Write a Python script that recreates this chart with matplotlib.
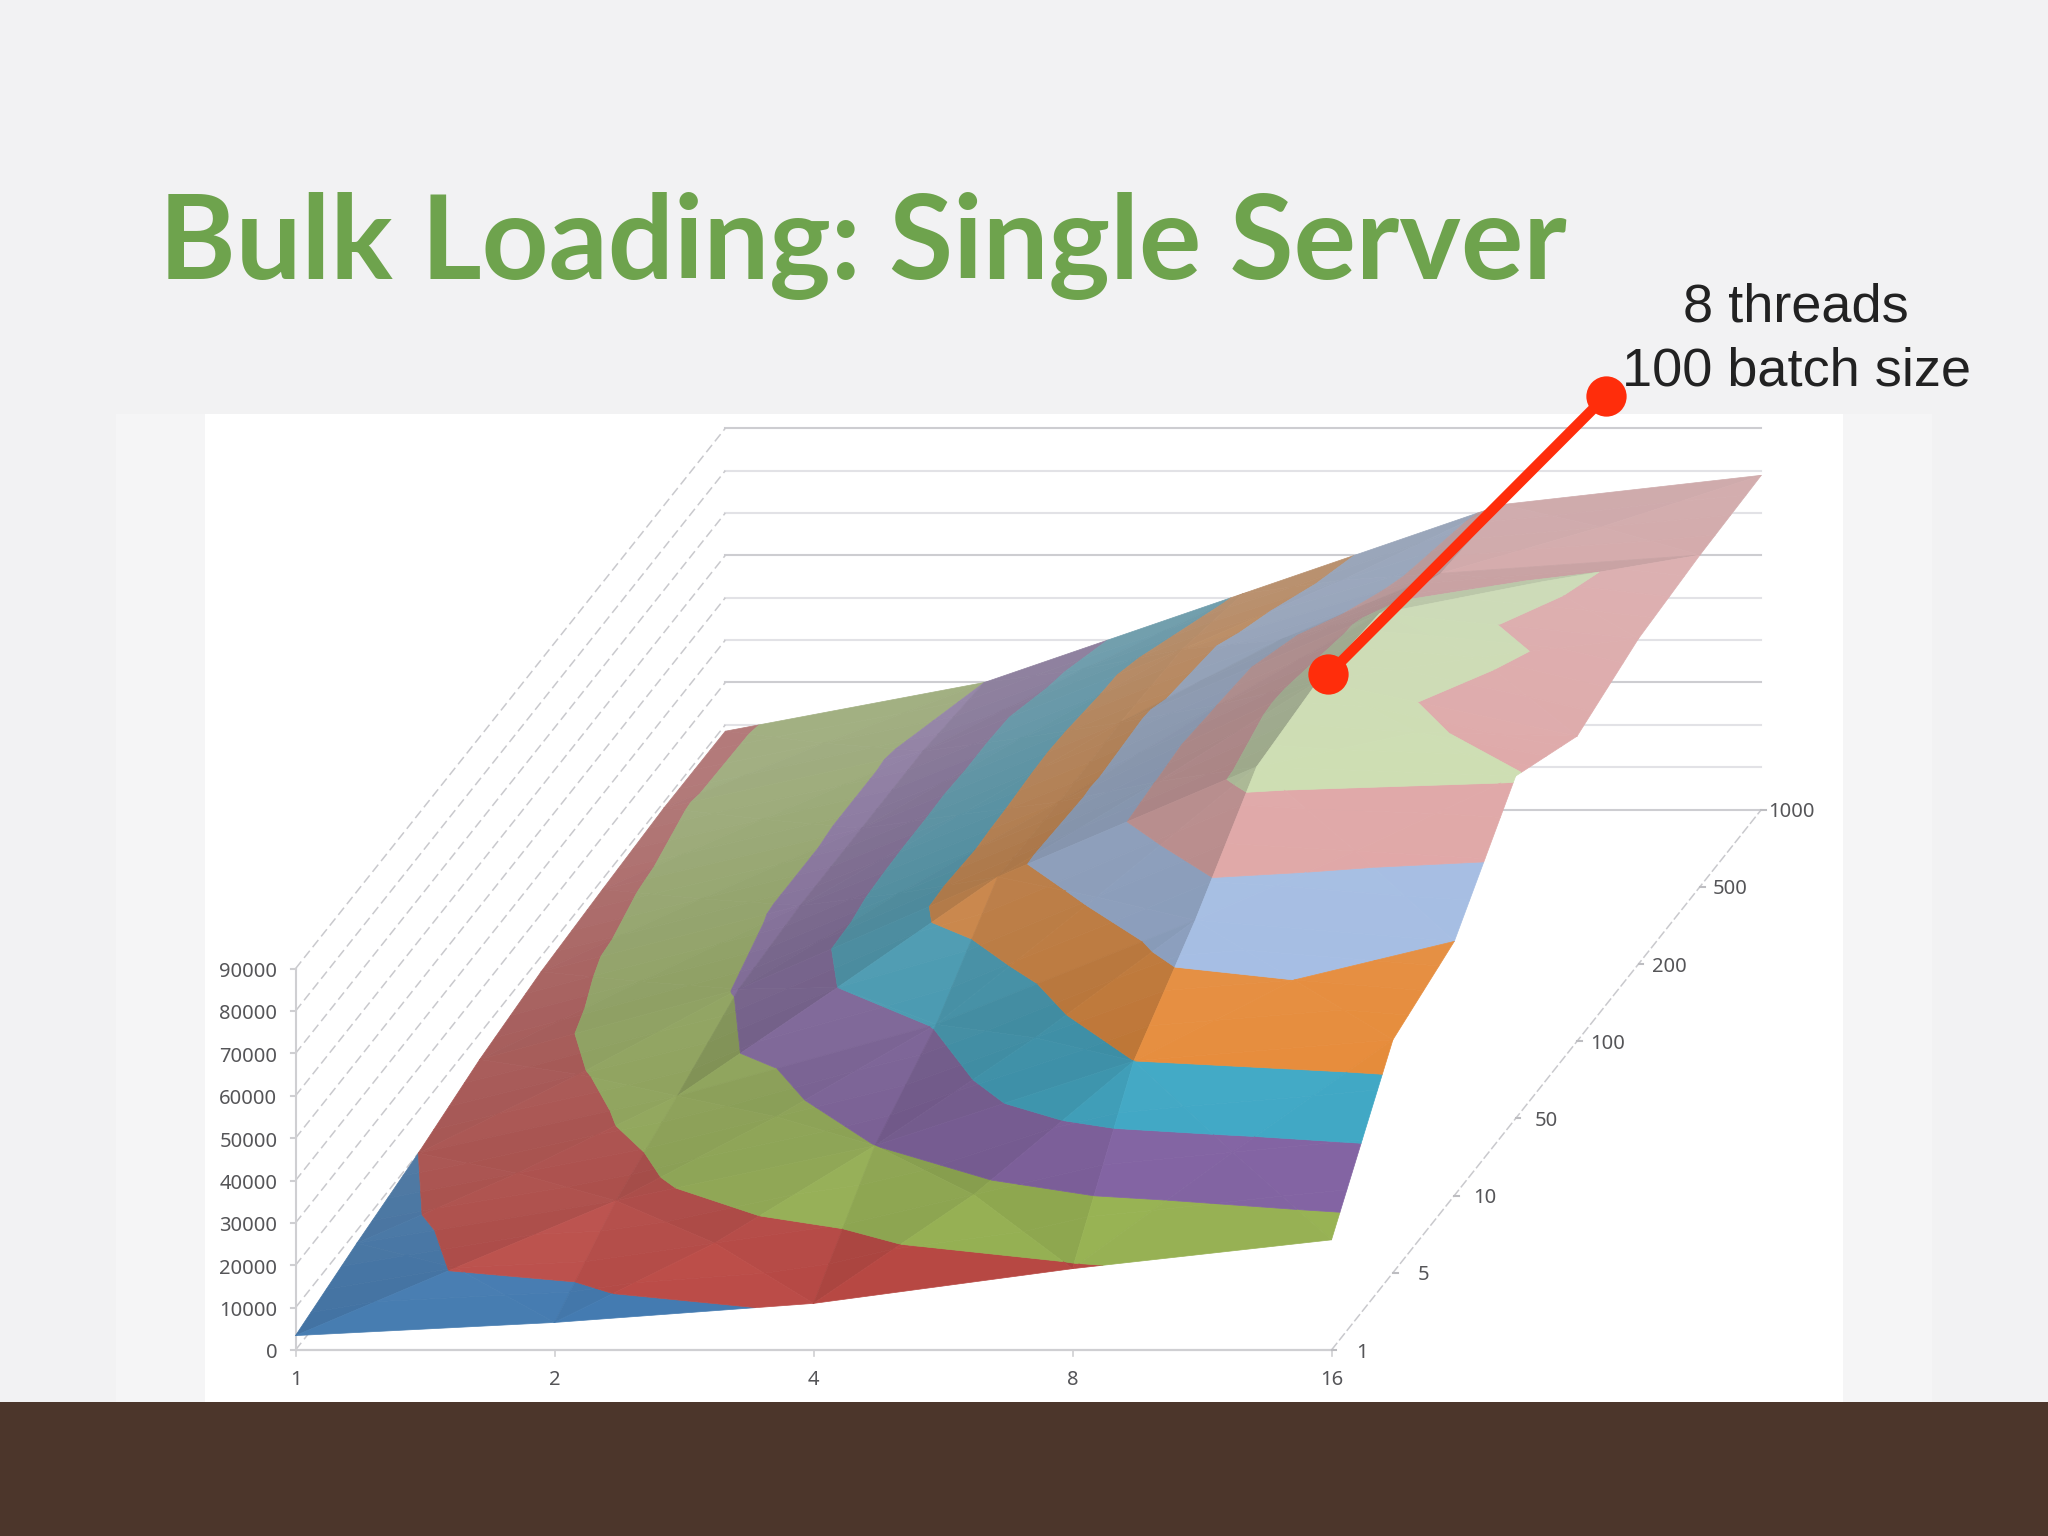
import numpy as np
import matplotlib
matplotlib.use("Agg")
import matplotlib.pyplot as plt
from matplotlib.collections import PolyCollection
from matplotlib.patches import Rectangle

# ---- data ----
threads = ["1", "2", "4", "8", "16"]
batch_sizes = ["1", "5", "10", "50", "100", "200", "500", "1000"]
z_ticks = [0, 10000, 20000, 30000, 40000, 50000, 60000, 70000, 80000, 90000]

# one row per batch size, one column per thread count
row_1 = [3400, 6500, 11000, 19200, 26000]
row_5 = [7000, 17000, 30000, 50000, 55000]
row_10 = [10000, 23500, 40400, 65000, 60000]
row_50 = [13900, 30500, 57000, 83000, 80800]
row_100 = [16400, 32000, 56500, 85000, 72000]
row_200 = [17600, 32000, 57000, 82700, 76800]
row_500 = [18600, 32000, 56000, 74000, 78300]
row_1000 = [18500, 30000, 51000, 72000, 78900]

# centre of a cell where the picture does not show the mean of its corners
# (column, row): value
cell_centres = {(0, 0): 10300, (1, 2): 40000, (3, 1): 60000, (3, 3): 82000,
                (3, 4): 81500, (3, 5): 81000}

band_colors = ["#4179b0", "#bb4a45", "#99b455", "#8465a4", "#41a9c6",
               "#e78c3a", "#a3bde5", "#e3a4a3", "#cee1ae"]
band_step = 10000

# ---- oblique projection of the Excel chart ----
W, H = 2048, 1536
X0, CAT_PX = 295.5, 259.0
BASE_PX, Z_PX = 1350.0, 0.004237
DEPTH_X = 61.4 / CAT_PX
DEPTH_Z = 77.2 / Z_PX


def project(x, j, z):
    x, j, z = np.broadcast_arrays(x, j, z)
    return x + j * DEPTH_X, z + j * DEPTH_Z


def clip(poly, lo, hi, axis=2):
    # cut a polygon of (x, j, z) points to lo <= coordinate <= hi
    for limit, sign in ((lo, 1), (hi, -1)):
        out = []
        for a, b in zip(poly, poly[1:] + poly[:1]):
            da, db = sign * (a[axis] - limit), sign * (b[axis] - limit)
            if da >= 0:
                out.append(a)
            if da * db < 0:
                t = da / (da - db)
                out.append(tuple(a[k] + t * (b[k] - a[k]) for k in range(3)))
        poly = out
        if not poly:
            break
    return poly


def shaded(color, tri, x, depth):
    p0, p1, p2 = [np.array(p, dtype=float) for p in tri]
    p0[2] /= 25000; p1[2] /= 25000; p2[2] /= 25000
    n = np.cross(p1 - p0, p2 - p0)
    n = n / np.linalg.norm(n)
    if n[2] < 0:
        n = -n
    light = np.array([0.60, -0.40, 0.69])
    f = 0.70 + 0.45 * max(n @ light, 0)
    rgb = np.array(matplotlib.colors.to_rgb(color)) * min(f, 1.0)
    fade = 0.42 * np.clip((depth + 1.6 * (1 - x / 4) - 0.8) / 7.0, 0, 1)
    return tuple(rgb * (1 - fade) + np.array([0.80, 0.80, 0.82]) * fade)


fig = plt.figure(figsize=(W / 100, H / 100), dpi=100, facecolor="#f2f2f3")
ax = fig.add_axes([0, 0, 1, 1])
ax.set_xlim(-X0 / CAT_PX, (W - X0) / CAT_PX)
ax.set_ylim((BASE_PX - H) / Z_PX, BASE_PX / Z_PX)
ax.axis("off")

# slide background pieces
ax.add_patch(Rectangle((116 / W, 0), 1816 / W, 1 - 414 / H, transform=ax.transAxes,
                       fc="#f5f5f6", ec="none", zorder=0))
ax.add_patch(Rectangle((205 / W, 0), 1638 / W, 1 - 414 / H, transform=ax.transAxes,
                       fc="white", ec="none", zorder=0.1))
ax.add_patch(Rectangle((0, 0), 1, 1 - 1402 / H, transform=ax.transAxes,
                       fc="#4c362b", ec="none", zorder=5))

n_x, n_j = len(threads), len(batch_sizes)

# back wall and side wall
for z in z_ticks:
    xs, ys = project(np.array([0, n_x - 1]), n_j - 1, z)
    grid_color = "#cdcdd1" if z % 30000 == 0 else "#e2e2e6"
    ax.plot(xs, ys, color=grid_color, lw=1.5, zorder=1)
    xs, ys = project(np.array([0, 0]), np.array([0, n_j - 1]), z)
    ax.plot(xs, ys, color="#c9c9cd", lw=1.1, ls=(0, (6, 3)), zorder=1)

# front axes
ax.plot([0, 0], [0, z_ticks[-1]], color="#cfcfd2", lw=1.5, zorder=1)
ax.plot([0, n_x - 1], [0, 0], color="#cfcfd2", lw=1.6, zorder=1)
xs, ys = project(np.array([n_x - 1, n_x - 1]), np.array([0, n_j - 1]), 0)
ax.plot(xs, ys, color="#c9c9cd", lw=1.1, ls=(0, (6, 2)), zorder=1)

tick_color = "#555558"
tick_font = dict(fontsize=14.5, family="Noto Sans", color=tick_color)
for i, lab in enumerate(threads):
    ax.plot([i, i], [0, -1300], color="#cfcfd2", lw=1.2, zorder=1)
    ax.text(i, -7000, lab, ha="center", va="center", **tick_font)
for z in z_ticks:
    ax.plot([-0.018, 0], [z, z], color="#cfcfd2", lw=1.5, zorder=1)
    ax.text(-0.07, z - 800, str(z), ha="right", va="center", **tick_font)
for j, lab in enumerate(batch_sizes):
    px, py = project(n_x - 1, j, 0)
    ax.plot([px, px + 0.018], [py, py], color="#bdbdc1", lw=1.5, zorder=1)
    ax.text(px + 0.118, py - 600, lab, ha="center", va="center", **tick_font)

# surface: every cell is cut in four triangles round its centre, as Excel does
z_grid = np.array([row_1, row_5, row_10, row_50, row_100, row_200, row_500, row_1000], dtype=float)
polys, faces = [], []
for j in range(n_j - 2, -1, -1):
    for i in range(n_x - 1):
        corners = [(i, j, z_grid[j, i]), (i + 1, j, z_grid[j, i + 1]),
                   (i + 1, j + 1, z_grid[j + 1, i + 1]), (i, j + 1, z_grid[j + 1, i])]
        centre = cell_centres.get((i, j), np.mean([c[2] for c in corners]))
        mid = (i + 0.5, j + 0.5, centre)
        for k in [2, 1, 3, 0]:  # back triangle first
            tri = [corners[k], corners[(k + 1) % 4], mid]
            for b, color in enumerate(band_colors):
                part = clip(tri, b * band_step, (b + 1) * band_step)
                if len(part) < 3:
                    continue
                # thin strips along the depth so the fade to the back stays smooth
                for s in np.arange(3, -1, -1):
                    strip = clip(part, j + s / 4, j + (s + 1) / 4, axis=1)
                    if len(strip) < 3:
                        continue
                    arr = np.array(strip)
                    px, py = project(arr[:, 0], arr[:, 1], arr[:, 2])
                    polys.append(np.column_stack([px, py]))
                    faces.append(shaded(color, tri, arr[:, 0].mean(), arr[:, 1].mean()))

ax.add_collection(PolyCollection(polys, facecolors=faces, edgecolors=faces,
                                 linewidths=0.5, zorder=2))

# callout
dot_x, dot_y = project(3.04, 4, 86600)
tip_x, tip_y = (1606 - X0) / CAT_PX, (BASE_PX - 396) / Z_PX
ax.plot([dot_x, tip_x], [dot_y, tip_y], color="#ff2d0b", lw=7.5, zorder=6,
        marker="o", ms=29, mec="none", solid_capstyle="round")

ax.text(159 / W, 1 - 279 / H, "Bulk Loading: Single Server", transform=ax.transAxes,
        fontsize=84, fontweight="bold", family="Lato", color="#6ea34d", va="baseline", zorder=7)
ax.text(1796 / W, 1 - 307 / H, "8 threads", transform=ax.transAxes, fontsize=39,
        family="Liberation Sans", color="#222222", ha="center", va="center", zorder=7)
ax.text(1797 / W, 1 - 371 / H, "100 batch size", transform=ax.transAxes, fontsize=39,
        family="Liberation Sans", color="#222222", ha="center", va="center", zorder=7)

fig.savefig("out.png", dpi=100, facecolor=fig.get_facecolor())
